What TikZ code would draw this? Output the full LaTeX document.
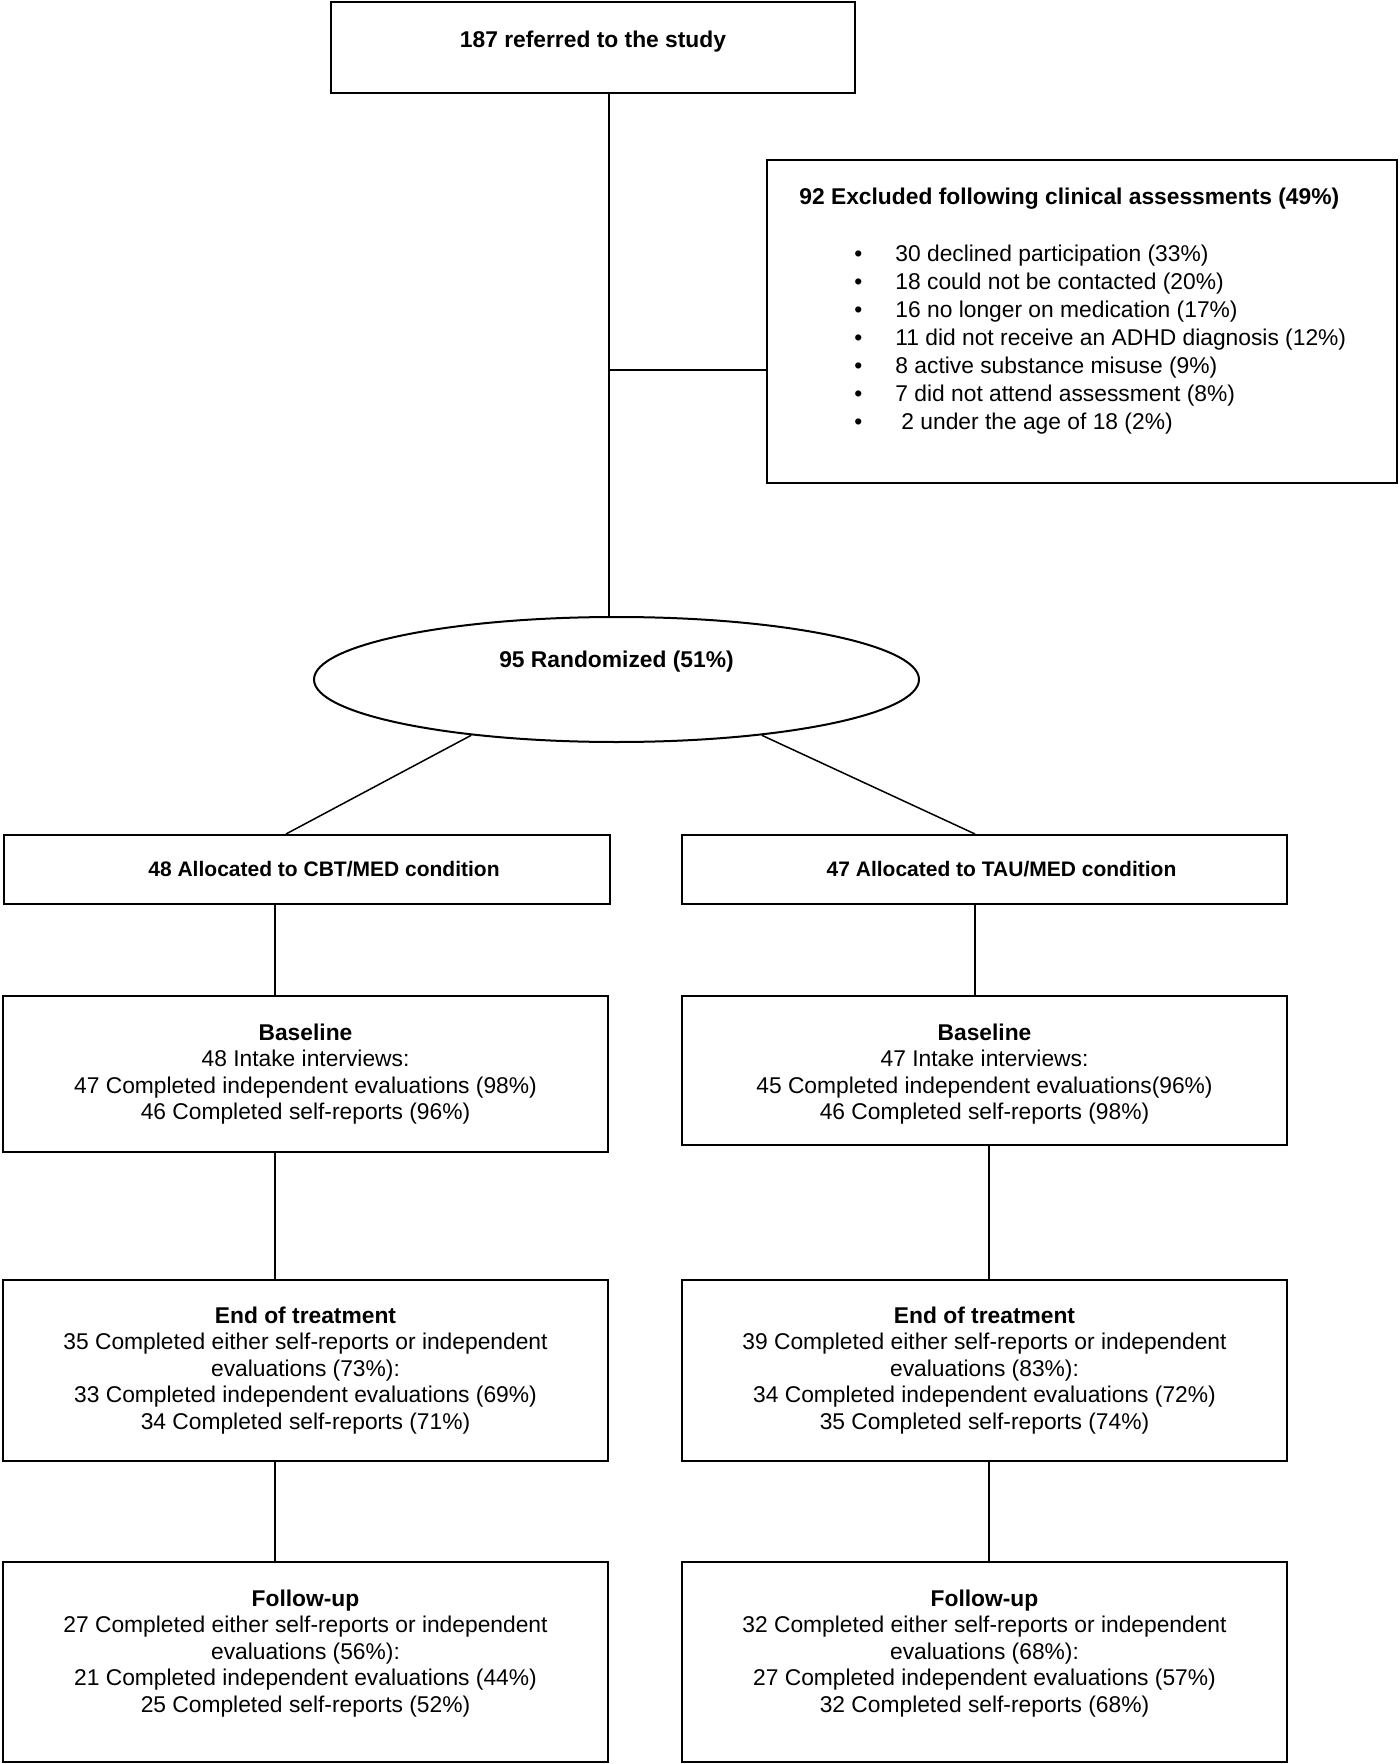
\documentclass[tikz,border=0pt]{standalone}
\usepackage{fontspec}
\setmainfont{Liberation Sans}
\usetikzlibrary{shapes.geometric}
\begin{document}
\begin{tikzpicture}[x=0.5pt,y=-0.5pt,
  every node/.style={font=\fontsize{11.4}{13.25}\selectfont},
  box/.style={draw,line width=1pt,rectangle,inner sep=0pt,align=center},
  plain/.style={inner sep=0pt,align=center},
  alloc/.style={box,minimum height=34.5pt,font=\fontsize{10.5}{12.5}\selectfont},
  conn/.style={line width=0.75pt}]
\useasboundingbox (0,0) rectangle (1400,1764);

% top
\node[box,minimum width=262pt,minimum height=45.5pt,text depth=8.6pt] (top) at (593,47.5) {\textbf{187 referred to the study}};

% exclusion
\node[box,minimum width=315pt,minimum height=161.5pt] (excl) at (1082,321.5) {};
\node[inner sep=0pt,anchor=north west,align=left,font=\fontsize{11.4}{14}\selectfont] (excltext) at (799,187.5) {%
\textbf{92 Excluded following clinical assessments (49\%)}\\[14.5pt]
\hspace*{27.5pt}\makebox[20.5pt][l]{•}30 declined participation (33\%)\\
\hspace*{27.5pt}\makebox[20.5pt][l]{•}18 could not be contacted (20\%)\\
\hspace*{27.5pt}\makebox[20.5pt][l]{•}16 no longer on medication (17\%)\\
\hspace*{27.5pt}\makebox[20.5pt][l]{•}11 did not receive an ADHD diagnosis (12\%)\\
\hspace*{27.5pt}\makebox[20.5pt][l]{•}8 active substance misuse (9\%)\\
\hspace*{27.5pt}\makebox[20.5pt][l]{•}7 did not attend assessment (8\%)\\
\hspace*{27.5pt}\makebox[20.5pt][l]{•}\hspace{3pt}2 under the age of 18 (2\%)};

% randomized
\node[draw,line width=1pt,ellipse,inner sep=0pt,minimum width=302.5pt,minimum height=62.5pt,text depth=20pt] (rand) at (616.5,679.5) {\textbf{95 Randomized (51\%)}};

% allocation
\node[alloc,minimum width=303pt] (allocL) at (307,869.5) {\hspace*{17pt}\textbf{48 Allocated to CBT/MED condition}};
\node[alloc,minimum width=302.5pt] (allocR) at (984.5,869.5) {\hspace*{17pt}\textbf{47 Allocated to TAU/MED condition}};

% baseline
\node[box,minimum width=302.5pt,minimum height=78pt] (baseL) at (305.5,1074) {\textbf{Baseline}\\48 Intake interviews:\\47 Completed independent evaluations (98\%)\\46 Completed self-reports (96\%)};
\node[box,minimum width=302.5pt,minimum height=74.5pt] (baseR) at (984.5,1070.5) {};
\node[plain] (baseRt) at (984.5,1074) {\textbf{Baseline}\\47 Intake interviews:\\45 Completed independent evaluations(96\%)\\46 Completed self-reports (98\%)};

% end of treatment
\node[box,minimum width=302.5pt,minimum height=90.5pt] (endL) at (305.5,1370.5) {\textbf{End of treatment}\\35 Completed either self-reports or independent\\evaluations (73\%):\\33 Completed independent evaluations (69\%)\\34 Completed self-reports (71\%)};
\node[box,minimum width=302.5pt,minimum height=90.5pt] (endR) at (984.5,1370.5) {\textbf{End of treatment}\\39 Completed either self-reports or independent\\evaluations (83\%):\\34 Completed independent evaluations (72\%)\\35 Completed self-reports (74\%)};

% follow-up
\node[box,minimum width=302.5pt,minimum height=100pt] (fuL) at (305.5,1662) {};
\node[plain] (fuLt) at (305.5,1653.5) {\textbf{Follow-up}\\27 Completed either self-reports or independent\\evaluations (56\%):\\21 Completed independent evaluations (44\%)\\25 Completed self-reports (52\%)};
\node[box,minimum width=302.5pt,minimum height=100pt] (fuR) at (984.5,1662) {};
\node[plain] (fuRt) at (984.5,1653.5) {\textbf{Follow-up}\\32 Completed either self-reports or independent\\evaluations (68\%):\\27 Completed independent evaluations (57\%)\\32 Completed self-reports (68\%)};

% connectors
\draw[conn] ([xshift=8pt]top.south) -- ([xshift=8pt]top.south |- rand.north);
\coordinate (j) at (609,370);
\draw[conn] (j) -- (j -| excl.west);
\draw[conn] (rand.201.5) -- ([xshift=-10.5pt]allocL.north);
\draw[conn] (rand.-21) -- ([xshift=-4.75pt]allocR.north);
\draw[conn] ([xshift=-16pt]allocL.south) -- ([xshift=-16pt]allocL.south |- baseL.north);
\draw[conn] ([xshift=-15.25pt]baseL.south) -- ([xshift=-15.25pt]baseL.south |- endL.north);
\draw[conn] ([xshift=-15.25pt]endL.south) -- ([xshift=-15.25pt]endL.south |- fuL.north);
\draw[conn] ([xshift=-4.75pt]allocR.south) -- ([xshift=-4.75pt]allocR.south |- baseR.north);
\draw[conn] ([xshift=2.25pt]baseR.south) -- ([xshift=2.25pt]baseR.south |- endR.north);
\draw[conn] ([xshift=2.25pt]endR.south) -- ([xshift=2.25pt]endR.south |- fuR.north);
\end{tikzpicture}
\end{document}
